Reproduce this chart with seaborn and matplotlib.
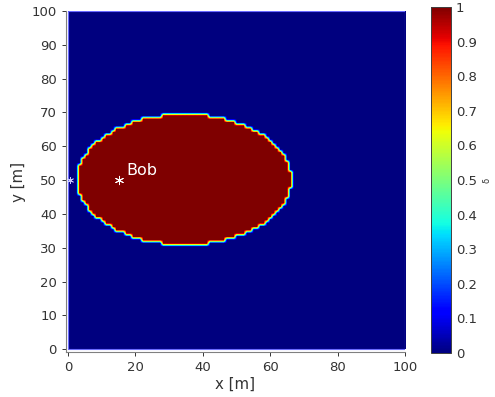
import numpy as np
import seaborn as sns
import matplotlib.pyplot as plt
from matplotlib.patches import Rectangle

# grid (1 m step) and the elliptical region where delta = 1
x_grid = np.arange(0, 101)
y_grid = np.arange(0, 101)
ellipse_center = (34.3, 50.0)
ellipse_axes = (32.0, 19.5)

# Bob's position and label
bob_x = [15]
bob_y = [50]
bob_name = 'Bob'
edge_x = [0.6]
edge_y = [50]

cbar_ticks = [0, 0.1, 0.2, 0.3, 0.4, 0.5, 0.6, 0.7, 0.8, 0.9, 1]
cbar_labels = ['0', '0.1', '0.2', '0.3', '0.4', '0.5', '0.6', '0.7', '0.8', '0.9', '1']

X, Y = np.meshgrid(x_grid, y_grid)
delta = ((((X - ellipse_center[0]) / ellipse_axes[0]) ** 2 +
          ((Y - ellipse_center[1]) / ellipse_axes[1]) ** 2) <= 1).astype(float)

sns.set_theme(style='ticks')
plt.rcParams['font.family'] = ['DejaVu Sans']
plt.rcParams['axes.edgecolor'] = '#262626'

fig = plt.figure(figsize=(4.95, 3.97), dpi=100)
ax = fig.add_axes([0.1333, 0.1134, 0.685, 0.859])

im = ax.imshow(delta, origin='lower', extent=[0, 100, 0, 100], cmap='jet',
               vmin=0, vmax=1, interpolation='bilinear', aspect='auto')
ax.add_patch(Rectangle((0, 0), 100, 100, fill=False, edgecolor='#6a6aff', lw=0.8))

sns.scatterplot(x=bob_x, y=bob_y, marker=(6, 2, 0), s=36, color='white',
                linewidth=0.7, ax=ax, zorder=5)
sns.scatterplot(x=edge_x, y=edge_y, marker=(6, 2, 0), s=20, color='#c8c8ff',
                linewidth=0.6, ax=ax, zorder=5)
ax.text(17.2, 51.6, bob_name, color='white', fontsize=11.5, ha='left', va='baseline')

ax.set_xlim(-0.6, 100)
ax.set_ylim(-0.8, 100)
ax.set_xticks(range(0, 101, 20))
ax.set_yticks(range(0, 101, 10))
ax.tick_params(labelsize=9.5, length=3, width=0.7, colors='#333333')
ax.set_xlabel('x [m]', fontsize=10.8, color='#333333', labelpad=2)
ax.set_ylabel('y [m]', fontsize=10.8, color='#333333', labelpad=4)
for s in ['top', 'right']:
    ax.spines[s].set_visible(False)
for s in ['left', 'bottom']:
    ax.spines[s].set_color('#808080')
    ax.spines[s].set_linewidth(0.8)

cax = fig.add_axes([0.871, 0.111, 0.0404, 0.8715])
cb = fig.colorbar(im, cax=cax, ticks=cbar_ticks)
cb.ax.set_yticklabels(cbar_labels)
cb.ax.tick_params(labelsize=9.5, length=3, width=0.6, direction='in', colors='#333333')
cb.outline.set_edgecolor('#404040')
cb.outline.set_linewidth(0.7)
cb.set_label('δ', fontsize=6, color='#333333', labelpad=4)

plt.savefig('out.png', dpi=100)
